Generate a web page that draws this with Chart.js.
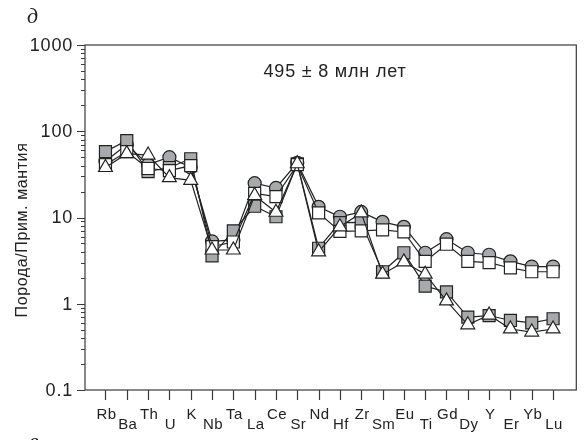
<!DOCTYPE html>
<html>
<head>
<meta charset="utf-8">
<script src="https://cdn.jsdelivr.net/npm/chart.js@4"></script>
<style>
  html, body { margin: 0; padding: 0; background: #fff; }
</style>
</head>
<body>
<canvas id="spider" width="586" height="440"></canvas>
<script>
// ─── Data ─────────────────────────────────────────────────────────────────────
const elements = ['Rb', 'Ba', 'Th', 'U', 'K', 'Nb', 'Ta', 'La', 'Ce', 'Sr', 'Nd',
                  'Hf', 'Zr', 'Sm', 'Eu', 'Ti', 'Gd', 'Dy', 'Y', 'Er', 'Yb', 'Lu'];

const grayCircles  = [45, 70, 41, 50, 38, 5.3, 5.5, 25, 22, 43, 13.3, 10.2, 11.6, 8.9, 7.8, 3.9, 5.6, 3.9, 3.7, 3.1, 2.7, 2.7];
const graySquares  = [58, 78, 34, 38, 48, 3.6, 7.0, 13.5, 10.2, 42, 4.4, 8.7, 8.8, 2.35, 3.9, 1.6, 1.37, 0.70, 0.73, 0.64, 0.60, 0.67];
const whiteSquares = [41, 58, 37, 35, 40, 4.6, 5.2, 19, 17.5, 41, 11.3, 6.9, 7.0, 7.2, 6.8, 3.1, 4.9, 3.1, 3.0, 2.6, 2.35, 2.35];
const whiteTriangles = [38, 55, 53, 29, 27, 4.2, 4.2, 18, 11.5, 42, 4.0, 7.8, 11.3, 2.2, 3.06, 2.2, 1.08, 0.57, 0.74, 0.51, 0.47, 0.51];

const yTickLabels = ['0.1', '1', '10', '100', '1000'];
const yTickValues = [0.1, 1, 10, 100, 1000];

const GRAY = '#a7a9ac';
const INK = '#222';
const FONT = '"Liberation Sans", Arial, sans-serif';

// ─── Helpers ──────────────────────────────────────────────────────────────────
const toPoints = arr => arr.map((v, i) => ({ x: i, y: v }));

function series(label, values, style, fill, radius) {
    return {
        label,
        data: toPoints(values),
        borderColor: INK,
        borderWidth: 1.2,
        pointStyle: style,
        pointRadius: radius,
        pointBackgroundColor: fill,
        pointBorderColor: INK,
        pointBorderWidth: 1.2,
        tension: 0,
        fill: false
    };
}

// ─── Axes, labels, annotations ────────────────────────────────────────────────
const framePlugin = {
    id: 'frame',
    afterDraw(chart) {
        const { ctx, chartArea: a, scales: { x, y } } = chart;
        ctx.save();
        ctx.strokeStyle = '#3a3a3a';
        ctx.lineWidth = 1.2;
        ctx.strokeRect(a.left, a.top, a.right - a.left, a.bottom - a.top);

        // y ticks (major + minor)
        ctx.beginPath();
        for (let d = -1; d <= 2; d++) {
            for (let m = 1; m <= 9; m++) {
                const py = Math.round(y.getPixelForValue(m * Math.pow(10, d))) + 0.5;
                const len = m === 1 ? 8 : 4;
                ctx.moveTo(a.left - len, py);
                ctx.lineTo(a.left, py);
            }
        }
        const pTop = Math.round(y.getPixelForValue(1000)) + 0.5;
        ctx.moveTo(a.left - 8, pTop);
        ctx.lineTo(a.left, pTop);

        // x ticks
        elements.forEach((_, i) => {
            const px = Math.round(x.getPixelForValue(i)) + 0.5;
            ctx.moveTo(px, a.bottom);
            ctx.lineTo(px, a.bottom + 10);
        });
        ctx.stroke();

        ctx.fillStyle = '#222';
        // y tick labels
        ctx.font = '18px ' + FONT;
        ctx.letterSpacing = '0.8px';
        ctx.textAlign = 'right';
        ctx.textBaseline = 'middle';
        yTickValues.forEach((v, i) => {
            ctx.fillText(yTickLabels[i], a.left - 12, y.getPixelForValue(v) + 1);
        });

        // x labels, staggered in two rows
        ctx.font = '15px ' + FONT;
        ctx.letterSpacing = '0.4px';
        ctx.textAlign = 'center';
        ctx.textBaseline = 'alphabetic';
        elements.forEach((el, i) => {
            const base = i % 2 === 0 ? a.bottom + 29 : a.bottom + 39;
            ctx.fillText(el, x.getPixelForValue(i) + 1, base);
        });

        // y title
        ctx.save();
        ctx.translate(23, 230);
        ctx.rotate(-Math.PI / 2);
        ctx.font = '16px ' + FONT;
        ctx.letterSpacing = '0.6px';
        ctx.textBaseline = 'middle';
        ctx.fillText('Порода/Прим. мантия', 0, 0);
        ctx.restore();

        // age note
        ctx.font = '18px ' + FONT;
        ctx.letterSpacing = '0.8px';
        ctx.textAlign = 'center';
        ctx.fillText('495 ± 8 млн лет', 335, 77);

        // panel letters
        ctx.letterSpacing = '0px';
        ctx.font = 'italic 22px "Liberation Serif", serif';
        ctx.textAlign = 'left';
        ctx.fillText('д', 27, 23);
        ctx.fillText('в', 29, 448);
        ctx.restore();
    }
};

// ─── Chart ────────────────────────────────────────────────────────────────────
new Chart(document.getElementById('spider'), {
    type: 'line',
    data: {
        datasets: [
            series('triangles', whiteTriangles, 'triangle', '#fff', 8),
            series('white squares', whiteSquares, 'rect', '#fff', 8.5),
            series('gray squares', graySquares, 'rect', GRAY, 8.5),
            series('gray circles', grayCircles, 'circle', GRAY, 6.5)
        ]
    },
    options: {
        responsive: false,
        animation: false,
        layout: { padding: { left: 85, right: 3, top: 45, bottom: 50 } },
        plugins: { legend: { display: false }, tooltip: { enabled: false } },
        scales: {
            x: { type: 'linear', min: -0.96, max: 22.09, display: false },
            y: { type: 'logarithmic', min: 0.1, max: 1000, display: false }
        }
    },
    plugins: [framePlugin]
});
</script>
</body>
</html>
